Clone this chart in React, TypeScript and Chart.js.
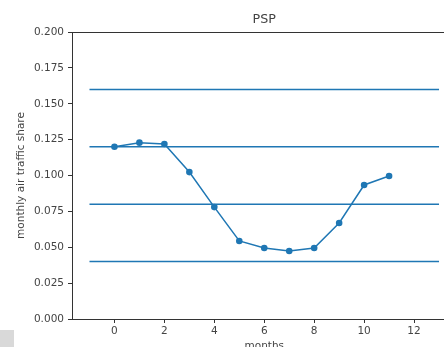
import React, { useEffect, useRef } from "react";
import { Chart, registerables } from "chart.js";

Chart.register(...registerables);

const months = [0, 1, 2, 3, 4, 5, 6, 7, 8, 9, 10, 11];
const share = [0.1201, 0.1229, 0.122, 0.1024, 0.078, 0.0544, 0.0495, 0.0474, 0.0495, 0.0669, 0.0934, 0.0997];
const hlineLevels = [0.16, 0.12, 0.08, 0.04];
const hlineStart = -1;
const hlineEnd = 13;
const xTicks = [0, 2, 4, 6, 8, 10, 12];
const yTicks = [0, 0.025, 0.05, 0.075, 0.1, 0.125, 0.15, 0.175, 0.2];

const BLUE = "#1f77b4";
const TEXT = "#444444";
const AXIS = "#333333";
const FONT = "DejaVu Sans";

const frame = {
  id: "frame",
  afterDraw(chart: any) {
    const { ctx, chartArea } = chart;
    ctx.save();
    ctx.strokeStyle = AXIS;
    ctx.lineWidth = 1;
    ctx.beginPath();
    ctx.moveTo(chartArea.left, Math.round(chartArea.top) + 0.5);
    ctx.lineTo(chartArea.right, Math.round(chartArea.top) + 0.5);
    ctx.stroke();
    ctx.restore();
  },
};

export default function App() {
  const ref = useRef<HTMLCanvasElement>(null);
  useEffect(() => {
    const datasets: any[] = [
      {
        data: months.map((m, i) => ({ x: m, y: share[i] })),
        borderColor: BLUE,
        backgroundColor: BLUE,
        borderWidth: 1.5,
        pointRadius: 3.3,
        pointBorderWidth: 0,
        tension: 0,
      },
      ...hlineLevels.map((lv) => ({
        data: [
          { x: hlineStart, y: lv },
          { x: hlineEnd, y: lv },
        ],
        borderColor: BLUE,
        backgroundColor: BLUE,
        borderWidth: 1.5,
        pointRadius: 0,
      })),
    ];
    const chart = new Chart(ref.current!, {
      type: "line",
      data: { datasets },
      plugins: [frame],
      options: {
        animation: false,
        responsive: false,
        layout: { padding: { left: 0, right: 63.5, top: 0, bottom: 0 } },
        plugins: {
          legend: { display: false },
          tooltip: { enabled: false },
          title: {
            display: true,
            text: "PSP",
            fullSize: false,
            color: TEXT,
            font: { family: FONT, size: 12.7, weight: "normal" },
            padding: { top: 12.4, bottom: 4.4 },
          },
        },
        scales: {
          x: {
            type: "linear",
            min: -1.7,
            max: 13.7,
            afterBuildTicks: (s: any) => {
              s.ticks = xTicks.map((v) => ({ value: v }));
            },
            afterFit: (s: any) => {
              s.height = 41;
            },
            ticks: {
              color: TEXT,
              font: { family: FONT, size: 10.5 },
              padding: 2,
              maxRotation: 0,
              autoSkip: false,
              callback: (v: any) => String(v),
            },
            grid: { drawOnChartArea: false, drawTicks: true, tickLength: 4, color: AXIS },
            border: { display: true, color: AXIS, width: 1 },
            title: {
              display: true,
              text: "months",
              color: TEXT,
              font: { family: FONT, size: 10.5 },
              padding: { top: 0, bottom: 7.7 },
            },
          },
          y: {
            type: "linear",
            min: 0,
            max: 0.2,
            afterBuildTicks: (s: any) => {
              s.ticks = yTicks.map((v) => ({ value: v }));
            },
            afterFit: (s: any) => {
              s.width = 72;
            },
            ticks: {
              color: TEXT,
              font: { family: FONT, size: 10.5 },
              padding: 4,
              autoSkip: false,
              callback: (v: any) => Number(v).toFixed(3),
            },
            grid: { drawOnChartArea: false, drawTicks: true, tickLength: 4, color: AXIS },
            border: { display: true, color: AXIS, width: 1 },
            title: {
              display: true,
              text: "monthly air traffic share",
              color: TEXT,
              font: { family: FONT, size: 10.5 },
              padding: { top: 14.7, bottom: 0 },
            },
          },
        },
      } as any,
    });
    return () => chart.destroy();
  }, []);

  return (
    <div
      style={{
        position: "fixed",
        left: 0,
        top: 0,
        width: 444,
        height: 347,
        overflow: "hidden",
        background: "#fff",
      }}
    >
      <canvas ref={ref} width={520} height={360} style={{ display: "block", width: 520, height: 360 }} />
      <div
        style={{
          position: "absolute",
          left: 0,
          top: 330,
          width: 14,
          height: 17,
          background: "#d9d9d9",
        }}
      />
    </div>
  );
}
